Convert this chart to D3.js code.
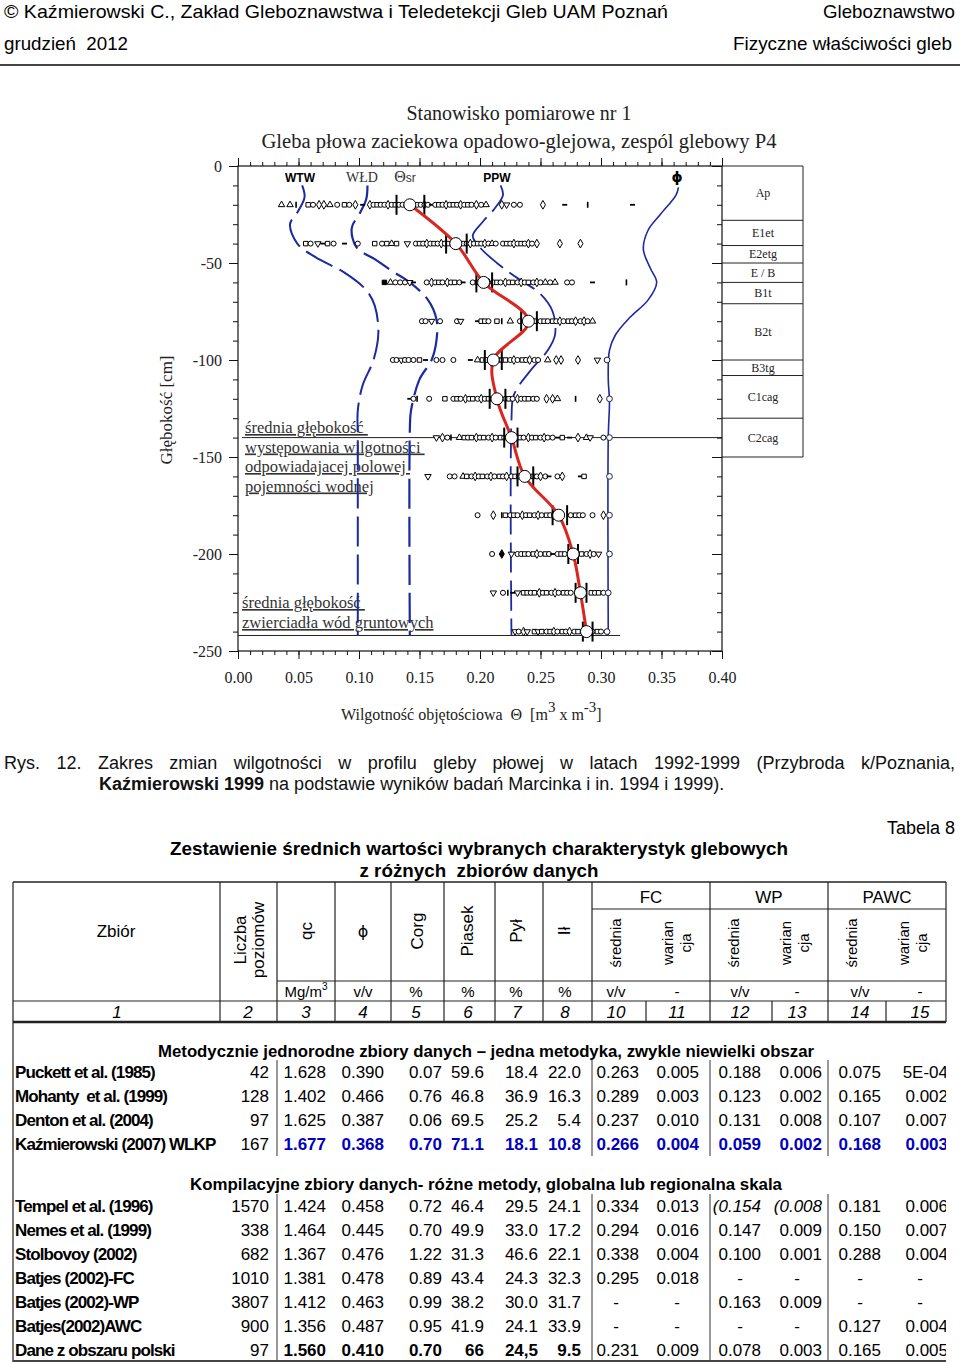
<!DOCTYPE html>
<html><head><meta charset="utf-8">
<script src="https://cdn.jsdelivr.net/npm/d3@7"></script>
<style>body{margin:0;background:#fff} svg{display:block} text{white-space:pre}</style>
</head><body><svg id="c" width="960" height="1363"></svg>
<script>
// ================= DATA =================
const depths = [20,40,60,80,100,120,140,160,180,200,220,240];
const meanTheta = [0.142,0.180,0.203,0.240,0.211,0.214,0.226,0.237,0.265,0.277,0.283,0.288];
const barLow  = [0.131,0.172,0.197,0.234,0.204,0.208,0.220,0.231,0.260,0.273,0.279,0.285];
const barHigh = [0.154,0.189,0.210,0.247,0.218,0.221,0.231,0.244,0.272,0.281,0.288,0.293];

// curves: [depth cm, theta]
const wtwCurve = [[10,0.053],[16,0.055],[24,0.049],[30,0.043],[40,0.049],[47,0.064],[55,0.088],[64,0.106],[72,0.113],[86,0.116],[100,0.112],[113,0.103],[126,0.099],[140,0.099],[242,0.099]];
const wldCurve = [[10,0.107],[17,0.106],[24,0.101],[32,0.094],[42,0.098],[48,0.113],[54,0.127],[60,0.142],[69,0.157],[79,0.164],[90,0.164],[100,0.160],[110,0.150],[126,0.143],[136,0.142],[242,0.142]];
const ppwCurve = [[10,0.217],[15,0.219],[22,0.212],[29,0.202],[36,0.194],[42,0.200],[50,0.214],[57,0.229],[66,0.250],[75,0.260],[87,0.262],[95,0.256],[106,0.241],[118,0.228],[131,0.226],[242,0.226]];
const phiCurve = [[11,0.364],[15,0.362],[25,0.349],[33,0.339],[43,0.335],[53,0.341],[60,0.346],[69,0.339],[78,0.324],[87,0.312],[95,0.307],[110,0.306],[121,0.307],[140,0.306],[242,0.306]];

const horizonNames  = ["Ap","E1et","E2etg","E / B","B1t","B2t","B3tg","C1cag","C2cag"];
const horizonBounds = [0,28,41,50,60,71,100,108,130,150];
const fcDepth = 140, gwDepth = 242;

// observations per depth: [theta, symbol]
const obs20 = [[.036,"t"],[.043,"t"],[.048,"|"],[.058,"s"],[.062,"o"],[.067,"d"],[.071,"d"],[.076,"t"],[.082,"o"],[.088,"s"],[.092,"o"],[.097,"d"],[.103,"-"],[.109,"d"],[.112,"o"],[.115,"s"],[.118,"o"],[.121,"o"],[.124,"d"],[.127,"o"],[.130,"s"],[.133,"o"],[.136,"o"],[.139,"d"],[.145,"s"],[.148,"o"],[.151,"o"],[.154,"d"],[.157,"o"],[.160,"-"],[.163,"o"],[.166,"s"],[.169,"o"],[.172,"d"],[.175,"o"],[.178,"s"],[.181,"o"],[.184,"d"],[.187,"o"],[.190,"s"],[.193,"o"],[.197,"d"],[.201,"o"],[.205,"t"],[.218,"d"],[.222,"v"],[.228,"o"],[.233,"o"],[.252,"d"],[.270,"-"],[.289,"|"],[.326,"-"]];
const obs40 = [[.056,"s"],[.060,"o"],[.066,"v"],[.070,"-"],[.074,"s"],[.079,"o"],[.088,"-"],[.099,"o"],[.113,"s"],[.119,"o"],[.123,"s"],[.127,"t"],[.131,"s"],[.140,"v"],[.147,"o"],[.150,"s"],[.153,"o"],[.156,"d"],[.159,"o"],[.162,"s"],[.165,"o"],[.168,"d"],[.171,"o"],[.174,"s"],[.177,"o"],[.183,"o"],[.186,"s"],[.189,"o"],[.192,"d"],[.195,"o"],[.198,"s"],[.201,"o"],[.204,"d"],[.207,"o"],[.210,"t"],[.213,"o"],[.219,"o"],[.222,"s"],[.225,"o"],[.228,"d"],[.231,"o"],[.234,"s"],[.237,"o"],[.240,"d"],[.243,"o"],[.247,"d"],[.266,"d"],[.283,"d"]];
const obs60 = [[.121,"S"],[.126,"t"],[.130,"o"],[.134,"o"],[.138,"o"],[.142,"v"],[.145,"-"],[.156,"o"],[.160,"d"],[.163,"o"],[.166,"s"],[.169,"o"],[.173,"d"],[.176,"o"],[.179,"s"],[.183,"o"],[.186,"-"],[.194,"o"],[.198,"s"],[.207,"d"],[.211,"o"],[.214,"s"],[.217,"o"],[.221,"d"],[.224,"o"],[.227,"s"],[.231,"o"],[.234,"d"],[.237,"o"],[.240,"s"],[.244,"o"],[.247,"d"],[.250,"o"],[.254,"t"],[.258,"o"],[.262,"t"],[.272,"o"],[.276,"o"],[.293,"-"],[.321,"|"]];
const obs80 = [[.152,"o"],[.155,"o"],[.160,"v"],[.167,"o"],[.181,"o"],[.184,"v"],[.198,"-"],[.201,"s"],[.204,"s"],[.207,"o"],[.214,"s"],[.218,"|"],[.225,"t"],[.233,"o"],[.238,"o"],[.243,"s"],[.246,"s"],[.250,"o"],[.253,"s"],[.256,"o"],[.260,"s"],[.263,"o"],[.266,"d"],[.269,"o"],[.273,"s"],[.276,"o"],[.279,"d"],[.283,"o"],[.286,"d"],[.289,"o"],[.293,"t"]];
const obs100 = [[.128,"o"],[.131,"o"],[.135,"v"],[.138,"o"],[.141,"o"],[.145,"o"],[.150,"s"],[.155,"-"],[.164,"o"],[.169,"o"],[.178,"o"],[.192,"-"],[.198,"t"],[.202,"s"],[.205,"o"],[.208,"s"],[.215,"s"],[.218,"o"],[.221,"s"],[.225,"o"],[.228,"d"],[.231,"o"],[.235,"s"],[.238,"o"],[.241,"d"],[.245,"o"],[.248,"o"],[.256,"t"],[.263,"d"],[.267,"d"],[.281,"d"],[.297,"v"],[.305,"p"]];
const obs120 = [[.142,"-"],[.145,"o"],[.148,"|"],[.158,"o"],[.171,"s"],[.178,"o"],[.181,"s"],[.184,"o"],[.188,"d"],[.191,"o"],[.194,"s"],[.198,"o"],[.201,"d"],[.204,"o"],[.207,"s"],[.217,"s"],[.221,"o"],[.224,"s"],[.227,"o"],[.231,"d"],[.234,"o"],[.237,"o"],[.240,"s"],[.244,"o"],[.247,"o"],[.255,"d"],[.260,"d"],[.264,"t"],[.279,"|"],[.299,"d"],[.307,"p"]];
const obs140 = [[.164,"v"],[.169,"d"],[.173,"o"],[.176,"|"],[.183,"t"],[.187,"s"],[.190,"o"],[.193,"s"],[.197,"d"],[.200,"o"],[.203,"s"],[.207,"o"],[.210,"d"],[.213,"o"],[.217,"s"],[.220,"o"],[.223,"d"],[.230,"o"],[.233,"s"],[.236,"o"],[.240,"d"],[.243,"o"],[.246,"s"],[.250,"o"],[.253,"d"],[.256,"o"],[.260,"o"],[.264,"-"],[.268,"s"],[.274,"-"],[.281,"d"],[.288,"t"],[.291,"v"],[.302,"o"],[.307,"p"]];
const obs160 = [[.157,"v"],[.175,"o"],[.179,"o"],[.186,"t"],[.189,"s"],[.193,"o"],[.196,"d"],[.199,"o"],[.202,"s"],[.206,"o"],[.209,"d"],[.212,"o"],[.216,"s"],[.219,"o"],[.222,"d"],[.226,"o"],[.229,"s"],[.232,"o"],[.244,"s"],[.247,"o"],[.250,"d"],[.254,"o"],[.257,"-"],[.264,"o"],[.268,"d"],[.283,"-"],[.286,"s"],[.307,"p"]];
const obs180 = [[.198,"o"],[.211,"d"],[.218,"|"],[.221,"s"],[.225,"o"],[.228,"s"],[.231,"o"],[.235,"d"],[.238,"o"],[.241,"s"],[.245,"o"],[.248,"d"],[.251,"o"],[.255,"s"],[.258,"o"],[.261,"d"],[.275,"o"],[.279,"s"],[.282,"o"],[.285,"o"],[.293,"o"],[.302,"d"],[.307,"p"]];
const obs200 = [[.210,"o"],[.218,"D"],[.226,"v"],[.231,"o"],[.234,"o"],[.237,"s"],[.240,"o"],[.244,"s"],[.247,"d"],[.250,"o"],[.254,"s"],[.257,"o"],[.260,"-"],[.264,"o"],[.267,"s"],[.270,"o"],[.284,"s"],[.288,"o"],[.291,"d"],[.294,"o"],[.298,"v"],[.307,"p"]];
const obs220 = [[.211,"v"],[.219,"o"],[.223,"|"],[.227,"-"],[.231,"v"],[.236,"s"],[.239,"s"],[.242,"o"],[.245,"s"],[.249,"d"],[.252,"o"],[.255,"s"],[.259,"o"],[.262,"d"],[.265,"o"],[.269,"s"],[.272,"o"],[.275,"o"],[.292,"s"],[.295,"o"],[.298,"s"],[.302,"o"],[.306,"p"]];
const obs240 = [[.229,"v"],[.232,"o"],[.236,"d"],[.239,"v"],[.245,"s"],[.248,"v"],[.251,"s"],[.255,"o"],[.258,"s"],[.261,"d"],[.264,"o"],[.268,"s"],[.271,"o"],[.274,"d"],[.278,"o"],[.281,"s"],[.293,"o"],[.297,"s"],[.300,"o"],[.305,"p"]];
const observations = [obs20,obs40,obs60,obs80,obs100,obs120,obs140,obs160,obs180,obs200,obs220,obs240];

// table
const colHeaders = ["qc","ϕ","Corg","Piasek","Pył","Ił"];
const groupHeaders = ["FC","WP","PAWC"];
const subHeaders = ["średnia","warian|cja"];
const unitLabels = ["Mg/m3","v/v","%","%","%","%","v/v","-","v/v","-","v/v","-"];
const colNumbers = ["1","2","3","4","5","6","7","8","10","11","12","13","14","15"];
const sectionTitles = ["Metodycznie jednorodne zbiory danych – jedna metodyka, zwykle niewielki obszar","Kompilacyjne zbiory danych- różne metody, globalna lub regionalna skala"];
const namesA = ["Puckett et al. (1985)","Mohanty  et al. (1999)","Denton et al. (2004)","Kaźmierowski (2007) WLKP"];
const rowsA = [
 ["42","1.628","0.390","0.07","59.6","18.4","22.0","0.263","0.005","0.188","0.006","0.075","5E-04"],
 ["128","1.402","0.466","0.76","46.8","36.9","16.3","0.289","0.003","0.123","0.002","0.165","0.002"],
 ["97","1.625","0.387","0.06","69.5","25.2","5.4","0.237","0.010","0.131","0.008","0.107","0.007"],
 ["167","1.677","0.368","0.70","71.1","18.1","10.8","0.266","0.004","0.059","0.002","0.168","0.003"]];
const namesB = ["Tempel et al. (1996)","Nemes et al. (1999)","Stolbovoy (2002)","Batjes (2002)-FC","Batjes (2002)-WP","Batjes(2002)AWC","Dane z obszaru polski"];
const rowsB = [
 ["1570","1.424","0.458","0.72","46.4","29.5","24.1","0.334","0.013","(0.154","(0.008","0.181","0.006"],
 ["338","1.464","0.445","0.70","49.9","33.0","17.2","0.294","0.016","0.147","0.009","0.150","0.007"],
 ["682","1.367","0.476","1.22","31.3","46.6","22.1","0.338","0.004","0.100","0.001","0.288","0.004"],
 ["1010","1.381","0.478","0.89","43.4","24.3","32.3","0.295","0.018","-","-","-","-"],
 ["3807","1.412","0.463","0.99","38.2","30.0","31.7","-","-","0.163","0.009","-","-"],
 ["900","1.356","0.487","0.95","41.9","24.1","33.9","-","-","-","-","0.127","0.004"],
 ["97","1.560","0.410","0.70","66","24,5","9.5","0.231","0.009","0.078","0.003","0.165","0.005"]];

// ================= DRAW =================
const SERIF = "'Liberation Serif','Times New Roman',serif";
const SANS = "'Liberation Sans',Arial,Helvetica,sans-serif";
const BLUE = "#1c2aa0", RED = "#d9261f";
const svg = d3.select("#c");

function justify(sel, width){
  const n = sel.node(); const w = n.getComputedTextLength();
  const sp = (n.textContent.match(/ /g)||[]).length;
  if (sp) sel.attr("word-spacing", (width - w)/sp);
}

// ---- page header ----
svg.append("text").attr("x",4).attr("y",18).attr("font-family",SANS).attr("font-size",19)
  .attr("textLength",664).attr("lengthAdjust","spacingAndGlyphs")
  .text("© Kaźmierowski C., Zakład Gleboznawstwa i Teledetekcji Gleb UAM Poznań");
svg.append("text").attr("x",955).attr("y",18).attr("text-anchor","end").attr("font-family",SANS).attr("font-size",19)
  .attr("textLength",132).attr("lengthAdjust","spacingAndGlyphs").text("Gleboznawstwo");
svg.append("text").attr("x",4).attr("y",50).attr("font-family",SANS).attr("font-size",19)
  .attr("textLength",124).attr("lengthAdjust","spacingAndGlyphs").text("grudzień  2012");
svg.append("text").attr("x",952).attr("y",50).attr("text-anchor","end").attr("font-family",SANS).attr("font-size",19)
  .attr("textLength",219).attr("lengthAdjust","spacingAndGlyphs").text("Fizyczne właściwości gleb");
svg.append("line").attr("x1",0).attr("x2",960).attr("y1",65).attr("y2",65).attr("stroke","#444").attr("stroke-width",2);

// ---- chart ----
const x = d3.scaleLinear().domain([0,0.4]).range([238,722]);
const y = d3.scaleLinear().domain([0,250]).range([166,651]);
const ch = svg.append("g");

ch.append("text").attr("x",519).attr("y",120).attr("text-anchor","middle").attr("font-family",SERIF).attr("font-size",20).attr("fill","#222")
  .text("Stanowisko pomiarowe nr 1");
ch.append("text").attr("x",519).attr("y",148).attr("text-anchor","middle").attr("font-family",SERIF).attr("font-size",20).attr("fill","#222")
  .attr("textLength",515).attr("lengthAdjust","spacingAndGlyphs")
  .text("Gleba płowa zaciekowa opadowo-glejowa, zespól glebowy P4");

const minorY = d3.range(0,251,10), majorY = d3.range(0,251,50);
const minorX = d3.range(0,41).map(i=>i/100), majorX = d3.range(0,9).map(i=>i*0.05);
function styleAxis(g){ g.select(".domain").remove(); g.selectAll("line").attr("stroke","#111"); g.selectAll("text").attr("font-family",SERIF).attr("font-size",16).attr("fill","#222"); }

ch.append("g").attr("transform","translate(238,0)").call(d3.axisLeft(y).tickValues(minorY).tickSize(5).tickFormat("")).call(styleAxis);
ch.append("g").attr("transform","translate(238,0)").call(d3.axisLeft(y).tickValues(majorY).tickSize(9).tickPadding(7).tickFormat(d=>d===0?"0":"-"+d)).call(styleAxis);
ch.append("g").attr("transform","translate(722,0)").call(d3.axisRight(y).tickValues(minorY).tickSize(-5).tickFormat("")).call(styleAxis);
ch.append("g").attr("transform","translate(722,0)").call(d3.axisRight(y).tickValues(majorY).tickSize(-10).tickFormat("")).call(styleAxis);
ch.append("g").attr("transform","translate(0,166)").call(d3.axisTop(x).tickValues(minorX).tickSize(4).tickFormat("")).call(styleAxis);
ch.append("g").attr("transform","translate(0,166)").call(d3.axisTop(x).tickValues(majorX).tickSize(8).tickFormat("")).call(styleAxis);
ch.append("g").attr("transform","translate(0,651)").call(d3.axisBottom(x).tickValues(minorX).tickSize(4).tickFormat("")).call(styleAxis);
ch.append("g").attr("transform","translate(0,651)").call(d3.axisBottom(x).tickValues(majorX).tickSize(8).tickPadding(13).tickFormat(d3.format(".2f"))).call(styleAxis);

// frame
ch.append("rect").attr("x",238).attr("y",166).attr("width",484).attr("height",485).attr("fill","none").attr("stroke","#111").attr("stroke-width",1.2);

// horizons box
const hb = ch.append("g");
hb.append("line").attr("x1",803).attr("x2",803).attr("y1",y(0)).attr("y2",y(150)).attr("stroke","#222");
hb.selectAll("line.hl").data(horizonBounds).join("line").attr("class","hl")
  .attr("x1",722).attr("x2",803).attr("y1",d=>y(d)).attr("y2",d=>y(d)).attr("stroke","#222");
hb.selectAll("text").data(horizonNames).join("text")
  .attr("x",763).attr("y",(d,i)=>(y(horizonBounds[i])+y(horizonBounds[i+1]))/2+4)
  .attr("text-anchor","middle").attr("font-family",SERIF).attr("font-size",12).attr("fill","#222").text(d=>d);

// axis titles
ch.append("text").attr("transform","translate(172,410) rotate(-90)").attr("text-anchor","middle")
  .attr("font-family",SERIF).attr("font-size",17).attr("fill","#222").text("Głębokość [cm]");
const xt = ch.append("text").attr("x",341).attr("y",720).attr("font-family",SERIF).attr("font-size",16).attr("fill","#222");
xt.append("tspan").text("Wilgotność objętościowa  Θ  [m");
xt.append("tspan").attr("dy",-8).attr("font-size",15).text("3");
xt.append("tspan").attr("dy",8).text(" x m");
xt.append("tspan").attr("dy",-8).attr("font-size",15).text("-3");
xt.append("tspan").attr("dy",8).text("]");

// annotation lines
ch.append("line").attr("x1",242).attr("x2",722).attr("y1",y(fcDepth)).attr("y2",y(fcDepth)).attr("stroke","#222");
ch.append("line").attr("x1",238).attr("x2",620).attr("y1",y(gwDepth)).attr("y2",y(gwDepth)).attr("stroke","#222");
const ann1 = ["średnia głębokość ","występowania wilgotności ","odpowiadajacej polowej ","pojemności wodnej"];
ch.selectAll("text.a1").data(ann1).join("text").attr("class","a1").attr("x",245).attr("y",(d,i)=>433+i*19.5)
  .attr("font-family",SERIF).attr("font-size",16.5).attr("fill","#333").attr("text-decoration","underline").text(d=>d);
const ann2 = ["średnia głębokość ","zwierciadła wód gruntowych"];
ch.selectAll("text.a2").data(ann2).join("text").attr("class","a2").attr("x",242).attr("y",(d,i)=>608+i*20)
  .attr("font-family",SERIF).attr("font-size",16.5).attr("fill","#333").attr("text-decoration","underline").text(d=>d);

// blue curves
const line = d3.line().x(d=>x(d[1])).y(d=>y(d[0])).curve(d3.curveCatmullRom.alpha(0.5));
[[wtwCurve,"30,8",2],[wldCurve,"30,8",2.2],[ppwCurve,"30,8",1.8],[phiCurve,null,1.6]].forEach(([c,dash,w])=>{
  ch.append("path").attr("d",line(c)).attr("fill","none").attr("stroke",BLUE).attr("stroke-width",w)
    .attr("stroke-dasharray",dash);
});

// observations
const symArea = {o:20,s:20,S:20,d:22,D:22,t:18,v:18,p:26};
const symType = {o:d3.symbolCircle,s:d3.symbolSquare,S:d3.symbolSquare,d:d3.symbolDiamond,D:d3.symbolDiamond,t:d3.symbolTriangle,v:d3.symbolTriangle,p:d3.symbolCircle};
observations.forEach((row,i)=>{
  const yy = y(depths[i]);
  const g = ch.append("g");
  row.forEach(([v,s])=>{
    const xx = x(v);
    if (s==="-") g.append("line").attr("x1",xx-2.5).attr("x2",xx+2.5).attr("y1",yy).attr("y2",yy).attr("stroke","#000").attr("stroke-width",1.8);
    else if (s==="|") g.append("line").attr("x1",xx).attr("x2",xx).attr("y1",yy-3).attr("y2",yy+3).attr("stroke","#000").attr("stroke-width",1.6);
    else g.append("path").attr("d",d3.symbol(symType[s],symArea[s])())
      .attr("transform",`translate(${xx},${yy})${s==="v"?" rotate(180)":""}`)
      .attr("fill",(s==="S"||s==="D")?"#000":"#fff").attr("stroke",s==="p"?"#223":"#000").attr("stroke-width",1);
  });
});

// error bars
depths.forEach((d,i)=>{
  [barLow[i],barHigh[i]].forEach(v=>{
    ch.append("line").attr("x1",x(v)).attr("x2",x(v)).attr("y1",y(d)-10).attr("y2",y(d)+10).attr("stroke","#000").attr("stroke-width",2);
  });
});
// mean line
const meanPts = depths.map((d,i)=>[d,meanTheta[i]]);
ch.append("path").attr("d",line(meanPts)).attr("fill","none").attr("stroke",RED).attr("stroke-width",3);
ch.selectAll("circle.mean").data(meanPts).join("circle").attr("class","mean")
  .attr("cx",d=>x(d[1])).attr("cy",d=>y(d[0])).attr("r",6).attr("fill","#fff").attr("stroke","#000").attr("stroke-width",1);

// legend labels
ch.append("text").attr("x",300).attr("y",182).attr("text-anchor","middle").attr("font-family",SANS).attr("font-weight","bold").attr("font-size",12).text("WTW");
ch.append("text").attr("x",362).attr("y",182).attr("text-anchor","middle").attr("font-family",SERIF).attr("font-size",14).attr("fill","#333").text("WŁD");
const th = ch.append("text").attr("x",405).attr("y",182).attr("text-anchor","middle");
th.append("tspan").attr("font-family",SERIF).attr("font-size",16).attr("fill","#333").text("Θ");
th.append("tspan").attr("font-family",SANS).attr("font-size",12).attr("fill","#333").text("sr");
ch.append("text").attr("x",497).attr("y",182).attr("text-anchor","middle").attr("font-family",SANS).attr("font-weight","bold").attr("font-size",12).text("PPW");
ch.append("text").attr("x",677).attr("y",182).attr("text-anchor","middle").attr("font-family","'DejaVu Sans',sans-serif").attr("font-weight","bold").attr("font-size",14).text("ϕ");

// ---- caption ----
const cap1 = svg.append("text").attr("x",4).attr("y",769).attr("font-family",SANS).attr("font-size",18).attr("fill","#111")
  .text("Rys. 12. Zakres zmian wilgotności w profilu gleby płowej w latach 1992-1999 (Przybroda k/Poznania,");
justify(cap1,951);
const cap2 = svg.append("text").attr("x",99).attr("y",790).attr("font-family",SANS).attr("font-size",18).attr("fill","#111");
cap2.append("tspan").attr("font-weight","bold").text("Kaźmierowski 1999");
cap2.append("tspan").text(" na podstawie wyników badań Marcinka i in. 1994 i 1999).");

svg.append("text").attr("x",955).attr("y",834).attr("text-anchor","end").attr("font-family",SANS).attr("font-size",18).text("Tabela 8");
svg.append("text").attr("x",479).attr("y",855).attr("text-anchor","middle").attr("font-family",SANS).attr("font-weight","bold").attr("font-size",19)
  .attr("textLength",618).attr("lengthAdjust","spacingAndGlyphs").text("Zestawienie średnich wartości wybranych charakterystyk glebowych");
svg.append("text").attr("x",479).attr("y",877).attr("text-anchor","middle").attr("font-family",SANS).attr("font-weight","bold").attr("font-size",19)
  .attr("textLength",239).attr("lengthAdjust","spacingAndGlyphs").text("z różnych  zbiorów danych");

// ---- table ----
const T = svg.append("g").attr("font-family",SANS).attr("fill","#000");
const L = (x1,y1,x2,y2,w=1.2,c="#222")=>T.append("line").attr("x1",x1).attr("y1",y1).attr("x2",x2).attr("y2",y2).attr("stroke",c).attr("stroke-width",w);
const colLines = [13,220,277,335,391,444,495,543,592,710,828,946];
L(13,882,946,882,1.5);
L(592,909,946,909);
L(277,981,946,981);
L(13,1001,946,1001);
L(13,1022,946,1022,2.5);
colLines.forEach(cx=>L(cx,882,cx,1022));
[646,772,886].forEach(cx=>L(cx,1001,cx,1022));
L(13,1022,13,1362);
L(13,1361,946,1361,2,"#444");
[277,592,710,828].forEach(cx=>{L(cx,1060,cx,1156,1,"#333"); L(cx,1194,cx,1360,1,"#333");});

T.append("text").attr("x",116).attr("y",937).attr("text-anchor","middle").attr("font-size",17).text("Zbiór");
[["Liczba",240],["poziomów",258]].forEach(([t,cx])=>T.append("text").attr("transform",`translate(${cx},940) rotate(-90)`)
  .attr("text-anchor","middle").attr("dy","0.35em").attr("font-size",17).text(t));
const headX = [306,363,417,467,516,564];
colHeaders.forEach((t,i)=>{
  if (t==="ϕ") T.append("text").attr("x",headX[i]).attr("y",937).attr("text-anchor","middle").attr("font-family","'DejaVu Sans',sans-serif").attr("font-size",16).text(t);
  else T.append("text").attr("transform",`translate(${headX[i]},931) rotate(-90)`).attr("text-anchor","middle").attr("dy","0.35em").attr("font-size",17).text(t);
});
const groupX = [651,769,887];
groupHeaders.forEach((t,i)=>T.append("text").attr("x",groupX[i]).attr("y",903).attr("text-anchor","middle").attr("font-size",17).text(t));
groupX.forEach((gx,i)=>{
  const base = 592 + i*118;
  T.append("text").attr("transform",`translate(${base+24},943) rotate(-90)`).attr("text-anchor","middle").attr("dy","0.35em").attr("font-size",15).text(subHeaders[0]);
  subHeaders[1].split("|").forEach((t,k)=>T.append("text").attr("transform",`translate(${base+76+k*18},943) rotate(-90)`)
    .attr("text-anchor","middle").attr("dy","0.35em").attr("font-size",15).text(t));
});
const unitX = [306,363,416,468,516,565,616,677,740,797,860,920];
unitLabels.forEach((t,i)=>{
  const tx = T.append("text").attr("x",unitX[i]).attr("y",997).attr("text-anchor","middle").attr("font-size",15);
  if (t==="Mg/m3"){ tx.append("tspan").text("Mg/m"); tx.append("tspan").attr("dy",-7).attr("font-size",10).text("3"); }
  else tx.text(t);
});
const numX = [117,248,306,363,416,468,517,565,616,677,740,797,860,920];
colNumbers.forEach((t,i)=>T.append("text").attr("x",numX[i]).attr("y",1018).attr("text-anchor","middle").attr("font-size",17).attr("font-style","italic").text(t));

const valRight = [269,326,384,442,484,538,581,639,699,761,822,881,948];
const valCenter = [250,306,363,417,467,516,564,616,677,740,797,860,920];
T.append("clipPath").attr("id","tclip").append("rect").attr("x",0).attr("y",1020).attr("width",946).attr("height",345);
const D = T.append("g").attr("clip-path","url(#tclip)");
function drawRows(names, rows, ys, styleFn){
  names.forEach((n,r)=>{
    D.append("text").attr("x",15).attr("y",ys[r]+6).attr("font-size",17).attr("font-weight","bold").attr("letter-spacing",-0.9).text(n);
    rows[r].forEach((v,c)=>{
      const t = D.append("text").attr("y",ys[r]+6).attr("font-size",17).text(v);
      if (v==="-") t.attr("x",valCenter[c]).attr("text-anchor","middle");
      else t.attr("x",valRight[c]).attr("text-anchor","end");
      styleFn(t,r,c);
    });
  });
}
D.append("text").attr("x",486).attr("y",1057).attr("text-anchor","middle").attr("font-size",17).attr("font-weight","bold")
  .attr("textLength",656).attr("lengthAdjust","spacingAndGlyphs").text(sectionTitles[0]);
D.append("text").attr("x",486).attr("y",1190).attr("text-anchor","middle").attr("font-size",17).attr("font-weight","bold")
  .attr("textLength",592).attr("lengthAdjust","spacingAndGlyphs").text(sectionTitles[1]);
drawRows(namesA, rowsA, [1072,1096,1120,1144], (t,r,c)=>{
  if (r===3 && c>0) t.attr("fill","#0000c0").attr("font-weight","bold");
});
drawRows(namesB, rowsB, [1206,1230,1254,1278,1302,1326,1350], (t,r,c)=>{
  if (r===0 && (c===9||c===10)) t.attr("font-style","italic");
  if (r===6 && c>0 && c<7) t.attr("font-weight","bold");
});
</script></body></html>
